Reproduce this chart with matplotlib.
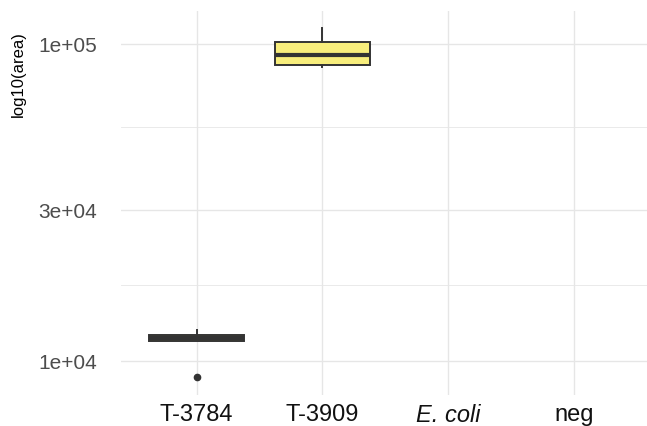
import numpy as np
import matplotlib.pyplot as plt

plt.rcParams['font.family'] = ['Liberation Sans', 'DejaVu Sans']

groups = ["T-3784", "T-3909", "E. coli", "neg"]
# box stats (area values)
box_groups = ["T-3784", "T-3909"]
whislo = [11530, 84400]
q1 = [11560, 86000]
med = [11860, 92300]
q3 = [12120, 101700]
whishi = [12550, 112100]
fliers = [[8900], []]

yticks = [1e4, 3e4, 1e5]
ytick_labels = ["1e+04", "3e+04", "1e+05"]

fill = "#F8EE7C"
dark = "#333333"
grid = "#E6E6E6"

fig = plt.figure(figsize=(6.47, 4.27), dpi=100)
ax = fig.add_axes([121 / 647, 31.4 / 427, 528.6 / 647, 383.9 / 427])

stats = []
for i, name in enumerate(box_groups):
    stats.append(dict(label=name, whislo=whislo[i], q1=q1[i], med=med[i],
                      q3=q3[i], whishi=whishi[i], fliers=fliers[i]))
pos = [groups.index(g) for g in box_groups]

ax.bxp(stats, positions=pos, widths=0.75, patch_artist=True, showcaps=False,
       boxprops=dict(facecolor=fill, edgecolor=dark, linewidth=1.4),
       medianprops=dict(color=dark, linewidth=3),
       whiskerprops=dict(color=dark, linewidth=1.4),
       flierprops=dict(marker="o", markerfacecolor=dark, markeredgecolor=dark,
                       markersize=4.5),
       zorder=3)

ax.set_yscale("log")
ax.set_ylim(10 ** 3.894, 10 ** 5.105)
ax.set_xlim(-0.6, 3.6)
ax.set_yticks(yticks)
ax.set_yticklabels(ytick_labels)
minor = [10 ** ((np.log10(yticks[i]) + np.log10(yticks[i + 1])) / 2)
         for i in range(len(yticks) - 1)]
ax.set_yticks(minor, minor=True)
ax.set_yticklabels([], minor=True)
ax.set_xticks(range(len(groups)))
ax.set_xticklabels(groups)
for lab in ax.get_xticklabels():
    if lab.get_text() == "E. coli":
        lab.set_style("italic")

ax.grid(True, which="major", color=grid, linewidth=1.0, zorder=0)
ax.grid(True, which="minor", axis="y", color=grid, linewidth=0.6, zorder=0)
ax.set_axisbelow(True)
for s in ax.spines.values():
    s.set_visible(False)
ax.tick_params(axis="both", which="both", length=0)
ax.tick_params(axis="y", labelsize=15, labelcolor="#4D4D4D", pad=17)
ax.tick_params(axis="x", labelsize=17, labelcolor="#111111", pad=6)

fig.text(18 / 647, 1 - 74 / 427, "log10(area)", rotation=90, ha="center",
         va="center", fontsize=12, color="black")

fig.savefig("out.png", dpi=100)
